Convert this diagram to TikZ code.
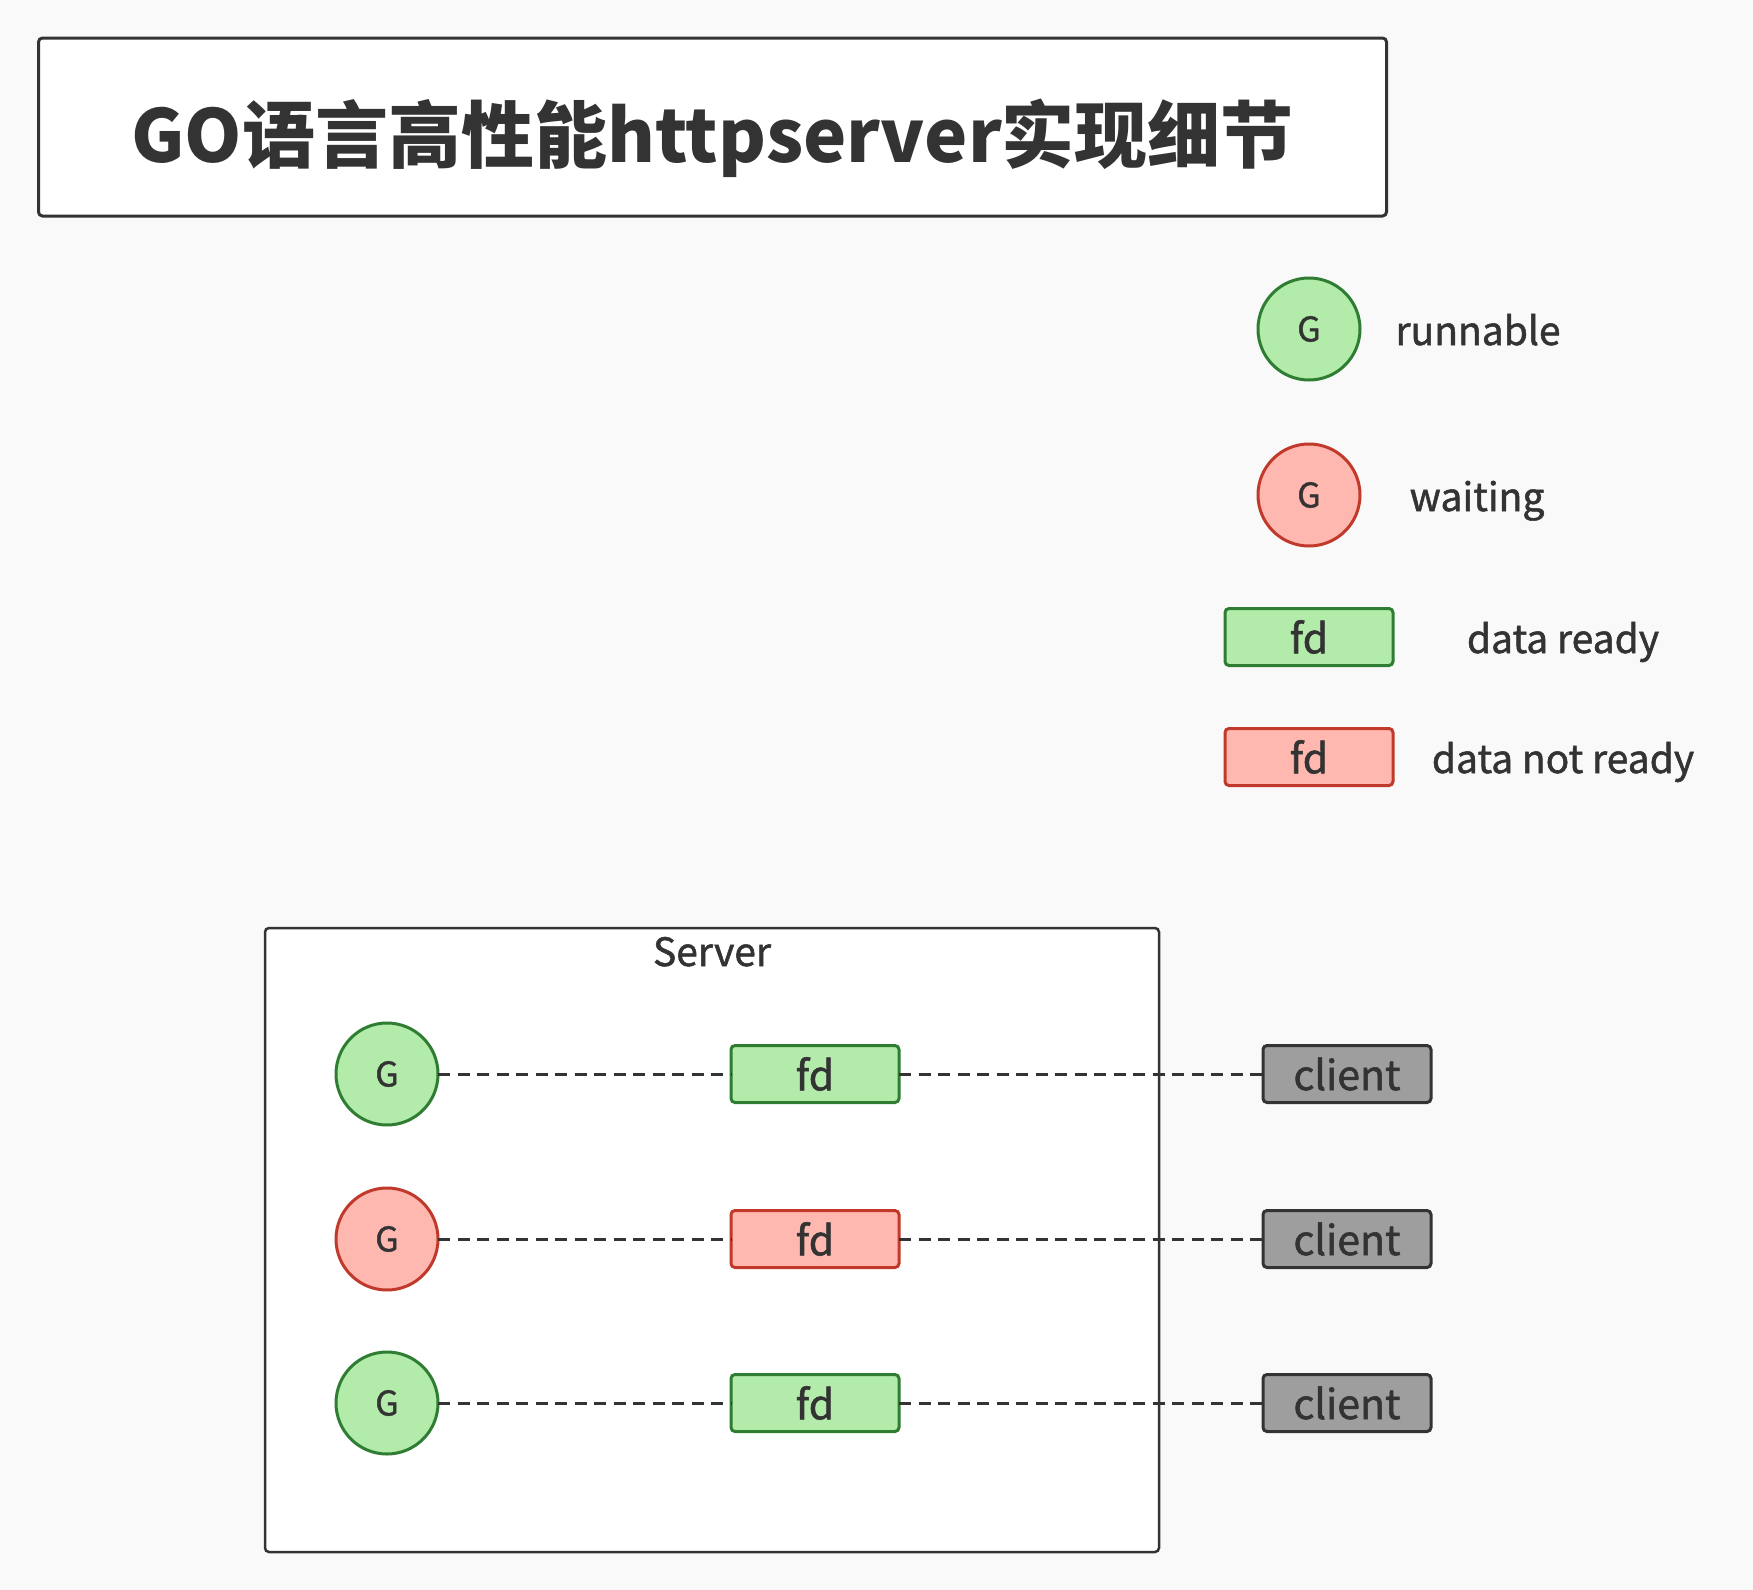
\documentclass[tikz,border=0pt]{standalone}
\usepackage{fontspec}
\setmainfont{Noto Sans CJK SC}
\newfontfamily\lblfont[FakeBold=1.3]{Noto Sans CJK SC}
\definecolor{bgc}{HTML}{F9F9F9}
\definecolor{txt}{HTML}{333333}
\definecolor{gfill}{HTML}{B2EBAA}
\definecolor{gline}{HTML}{2E7D32}
\definecolor{rfill}{HTML}{FFB8B0}
\definecolor{rline}{HTML}{C0392B}
\definecolor{cfill}{HTML}{9E9E9E}
\begin{document}
\begin{tikzpicture}[x=0.5pt,y=-0.5pt,
  every node/.style={text=txt, inner sep=0pt, outer sep=0pt},
  gbase/.style={circle, line width=1.5pt, minimum size=51pt, font=\lblfont\fontsize{17}{18}\selectfont},
  grun/.style={gbase, draw=gline, fill=gfill},
  gwait/.style={gbase, draw=rline, fill=rfill},
  rbase/.style={rectangle, rounded corners=2pt, line width=1.5pt, minimum width=84pt, minimum height=28.5pt, font=\lblfont\fontsize{20.5}{24}\selectfont},
  fdok/.style={rbase, draw=gline, fill=gfill},
  fdno/.style={rbase, draw=rline, fill=rfill},
  clientbox/.style={rbase, draw=txt, fill=cfill},
  lbl/.style={anchor=base, font=\lblfont\fontsize{19.5}{24}\selectfont},
  link/.style={draw=txt, line width=1.5pt, dash pattern=on 6pt off 3.75pt}
]
\fill[bgc] (0,0) rectangle (1753,1590);
\useasboundingbox (0,0) rectangle (1753,1590);

% title
\node[draw=txt, fill=white, line width=1.5pt, rounded corners=2pt, minimum width=674pt, minimum height=89pt] (titlebox) at (712.5,127) {};
\node[anchor=base, font=\fontsize{36.5}{42}\bfseries\selectfont] (title) at (712.5,162) {GO语言高性能httpserver实现细节};

% legend
\node[grun] (lg1) at (1309,329) {G};
\node[lbl] (lt1) at (1478,345) {runnable};
\node[gwait] (lg2) at (1309,495) {G};
\node[lbl] (lt2) at (1477,511) {waiting};
\node[fdok] (lf1) at (1309,637) {fd};
\node[lbl] (lt3) at (1563,653) {data ready};
\node[fdno] (lf2) at (1309,757) {fd};
\node[lbl] (lt4) at (1563,773) {data not ready};

% server
\draw[draw=txt, fill=white, line width=1.25pt, rounded corners=2pt] (265,928) rectangle (1159,1552);
\node[lbl] (srv) at (712,966) {Server};

\node[grun] (g1) at (387,1074) {G};
\node[fdok] (f1) at (815,1074) {fd};
\node[clientbox] (c1) at (1347,1074) {client};

\node[gwait] (g2) at (387,1239) {G};
\node[fdno] (f2) at (815,1239) {fd};
\node[clientbox] (c2) at (1347,1239) {client};

\node[grun] (g3) at (387,1403) {G};
\node[fdok] (f3) at (815,1403) {fd};
\node[clientbox] (c3) at (1347,1403) {client};

\draw[link] (g1) -- (f1);
\draw[link] (f1) -- (c1);
\draw[link] (g2) -- (f2);
\draw[link] (f2) -- (c2);
\draw[link] (g3) -- (f3);
\draw[link] (f3) -- (c3);
\end{tikzpicture}
\end{document}
